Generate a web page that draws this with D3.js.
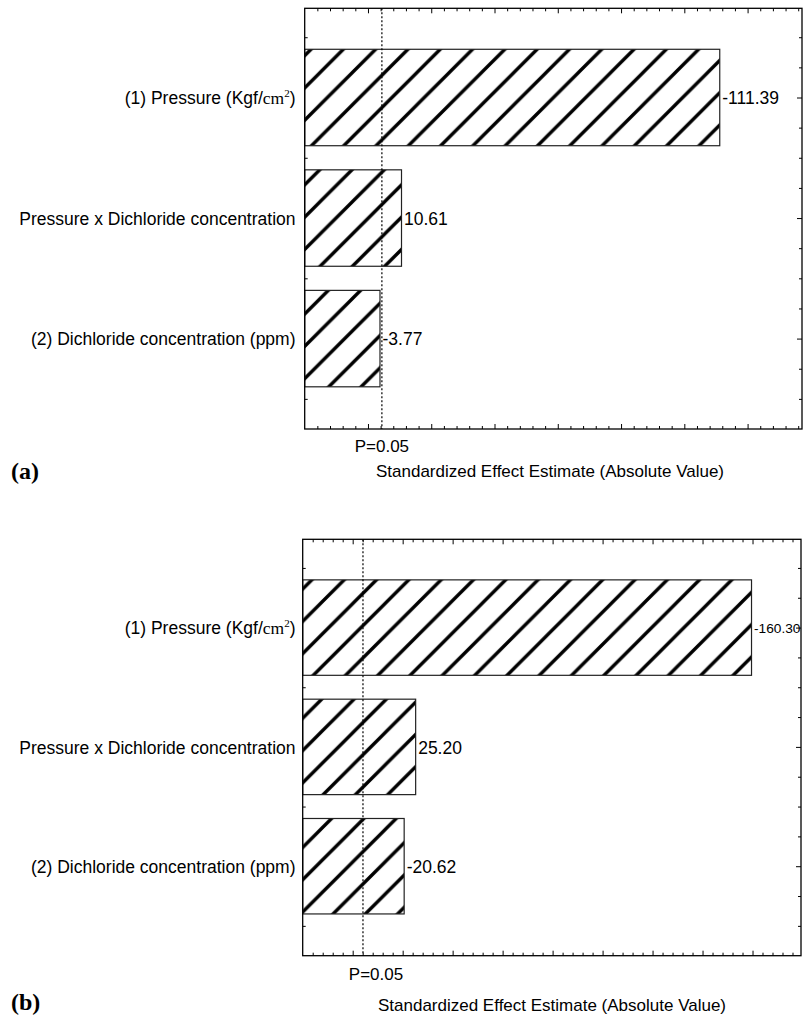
<!DOCTYPE html>
<html>
<head>
<meta charset="utf-8">
<script src="https://cdn.jsdelivr.net/npm/d3@7"></script>
<style>
  html, body { margin: 0; padding: 0; background: #fff; }
  svg { display: block; }
  .factor, .value, .p-label, .axis-title { font-family: "Liberation Sans", Arial, sans-serif; fill: #000; }
  .tag { font-family: "Liberation Serif", "Times New Roman", serif; font-weight: bold; fill: #000; }
  .tick line { stroke: #000; stroke-width: 1; }
</style>
</head>
<body>
<div id="chart"></div>
<script>
/* global d3 */
const factorNames = ['(1) Pressure (Kgf/cm²)', 'Pressure x Dichloride concentration', '(2) Dichloride concentration (ppm)'];
const factorRows = [2.75, 1.75, 0.75];   // row position of each bar, bottom = 0
const rowMax = 3.49;

// panel (a): bar lengths read against the unlabelled axis (10 units per long tick)
const effectA = [65.6, 15.3, 11.9];
const effectTextA = ['-111.39', '10.61', '-3.77'];
const pLimitA = 12.2;
const xMaxA = 78.6;

// panel (b)
const effectB = [89.8, 22.6, 20.3];
const effectTextB = ['-160.30', '25.20', '-20.62'];
const pLimitB = 12.06;
const xMaxB = 99.7;

const svg = d3.select('#chart').append('svg')
    .attr('width', 803)
    .attr('height', 1017);

const defs = svg.append('defs');

let DrawPareto = function (id, box) {
    this.id = id
    this.box = box
    this.width = box.right - box.left
    this.height = box.bottom - box.top

    // "/" hatch, lines where x + y = phase (mod P) in the panel's own coordinates
    const P = 32.3;
    const pat = defs.append('pattern')
        .attr('id', 'hatch-' + id)
        .attr('patternUnits', 'userSpaceOnUse')
        .attr('x', box.phase % P)
        .attr('y', 0)
        .attr('width', P)
        .attr('height', P);
    pat.append('rect').attr('width', P).attr('height', P).attr('fill', '#fff');
    pat.append('path')
        .attr('d', `M-5,5L5,-5M-5,${P + 5}L${P + 5},-5M${P - 5},${P + 5}L${P + 5},${P - 5}`)
        .attr('stroke', '#000')
        .attr('stroke-width', 3.4);

    this.g = svg.append('g')
        .attr('transform', `translate(${box.left},${box.top})`);
}

DrawPareto.prototype.draw = function (effect, effectText, pLimit, xMax) {
    const g = this.g;
    const box = this.box;
    const width = this.width;
    const height = this.height;

    const xScale = d3.scaleLinear()
        .domain([0, xMax])
        .range([0, width]);

    const yScale = d3.scaleLinear()
        .domain([0, rowMax])
        .range([height, 0]);

    const barHalf = 0.4;

    // ticks, all pointing inward
    const minorX = d3.range(2, xMax, 2).filter(v => v % 10 !== 0);
    const majorX = d3.range(10, xMax, 10);
    const minorY = d3.range(0.25, rowMax, 0.25).filter(v => (v - 0.75) % 1 !== 0);
    const majorY = factorRows.slice();

    const addAxis = (axis, values, size, transform) => {
        const ag = g.append('g')
            .attr('transform', transform)
            .call(axis.tickValues(values).tickSize(-size).tickFormat(''));
        ag.select('.domain').remove();
    };
    addAxis(d3.axisBottom(xScale), minorX, 3, `translate(0,${height})`);
    addAxis(d3.axisBottom(xScale), majorX, 5, `translate(0,${height})`);
    addAxis(d3.axisTop(xScale), minorX, 3, 'translate(0,0)');
    addAxis(d3.axisTop(xScale), majorX, 5, 'translate(0,0)');
    addAxis(d3.axisLeft(yScale), minorY, 3, 'translate(0,0)');
    addAxis(d3.axisLeft(yScale), majorY, 5, 'translate(0,0)');
    addAxis(d3.axisRight(yScale), minorY, 3, `translate(${width},0)`);
    addAxis(d3.axisRight(yScale), majorY, 5, `translate(${width},0)`);

    // bars
    g.selectAll('.bar')
        .data(effect)
        .enter().append('rect')
        .attr('class', 'bar')
        .attr('x', xScale(0))
        .attr('y', (d, i) => yScale(factorRows[i] + barHalf))
        .attr('width', d => xScale(d) - xScale(0))
        .attr('height', yScale(0) - yScale(2 * barHalf))
        .attr('fill', `url(#hatch-${this.id})`)
        .attr('stroke', '#222')
        .attr('stroke-width', 1.2);

    // p = 0.05 limit
    g.append('line')
        .attr('x1', xScale(pLimit)).attr('x2', xScale(pLimit))
        .attr('y1', 0).attr('y2', height)
        .attr('stroke', '#000')
        .attr('stroke-width', 1.2)
        .attr('stroke-dasharray', '2,2');

    // frame
    g.append('rect')
        .attr('width', width)
        .attr('height', height)
        .attr('fill', 'none')
        .attr('stroke', '#000')
        .attr('stroke-width', 1.3);

    // value labels, shrunk when they run into the frame
    g.selectAll('.value')
        .data(effectText)
        .enter().append('text')
        .attr('class', 'value')
        .attr('x', (d, i) => xScale(effect[i]) + 2.5)
        .attr('y', (d, i) => yScale(factorRows[i]))
        .attr('dy', '0.38em')
        .style('font-size', '17.5px')
        .text(d => d)
        .each(function (d, i) {
            const room = width - xScale(effect[i]) - 3;
            const len = this.getComputedTextLength();
            if (len > room) d3.select(this).style('font-size', (17.5 * room / len) + 'px');
        });

    // factor names
    g.selectAll('.factor')
        .data(factorNames)
        .enter().append('text')
        .attr('class', 'factor')
        .attr('x', 295.5 - box.left)
        .attr('y', (d, i) => yScale(factorRows[i]))
        .attr('dy', '0.38em')
        .attr('text-anchor', 'end')
        .style('font-size', '17.5px')
        .each(function (d) {
            const t = d3.select(this);
            const parts = d.split(/(cm²)/);
            let shifted = false;
            parts.forEach(p => {
                if (p === 'cm²') {
                    t.append('tspan').style('font-family', '"Liberation Serif", serif').text('cm');
                    t.append('tspan').style('font-family', '"Liberation Serif", serif')
                        .style('font-size', '11px').attr('dy', -7).text('2');
                    shifted = true;
                } else if (p.length) {
                    const s = t.append('tspan').text(p);
                    if (shifted) { s.attr('dy', 7); shifted = false; }
                }
            });
        });

    g.append('text')
        .attr('class', 'p-label')
        .attr('x', xScale(pLimit) + box.pShift)
        .attr('y', height + box.pDrop)
        .attr('text-anchor', 'middle')
        .style('font-size', '17px')
        .text('P=0.05');

    g.append('text')
        .attr('class', 'axis-title')
        .attr('x', box.titleX - box.left)
        .attr('y', height + box.titleDrop)
        .attr('text-anchor', 'middle')
        .style('font-size', '17px')
        .text('Standardized Effect Estimate (Absolute Value)');

    svg.append('text')
        .attr('class', 'tag')
        .attr('x', 11)
        .attr('y', box.tagY)
        .style('font-size', '24px')
        .text(box.tag);
}

const panelA = new DrawPareto('a', {left: 304.7, top: 8.3, right: 802, bottom: 429,
    phase: 79.6, pShift: 0, pDrop: 22.7, titleX: 550, titleDrop: 47.7, tagY: 479, tag: '(a)'});
panelA.draw(effectA, effectTextA, pLimitA, xMaxA);

const panelB = new DrawPareto('b', {left: 302.7, top: 539.3, right: 801, bottom: 955.7,
    phase: 82, pShift: 13, pDrop: 24.3, titleX: 552, titleDrop: 55, tagY: 1010, tag: '(b)'});
panelB.draw(effectB, effectTextB, pLimitB, xMaxB);
</script>
</body>
</html>
